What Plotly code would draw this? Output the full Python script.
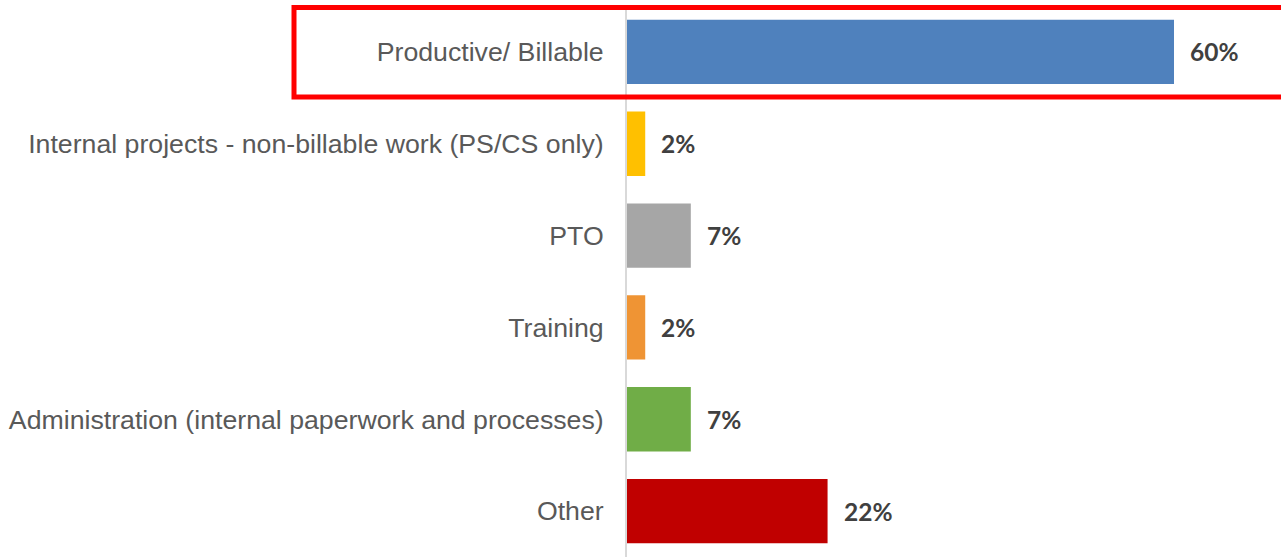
import plotly.graph_objects as go

# data
categories = [
    "Productive/ Billable",
    "Internal projects - non-billable work (PS/CS only)",
    "PTO",
    "Training",
    "Administration (internal paperwork and processes)",
    "Other",
]
values = [60, 2, 7, 2, 7, 22]
labels = ["60%", "2%", "7%", "2%", "7%", "22%"]
colors = ["#4f81bd", "#ffc000", "#a6a6a6", "#ef9434", "#70ad47", "#c00000"]

W, H = 1281, 557
LEFT = 627
TOP = 6
PX_PER_PCT = 547 / 60
x_max = (W - LEFT) / PX_PER_PCT

fig = go.Figure(go.Bar(
    x=values,
    y=categories,
    orientation="h",
    marker=dict(color=colors, line=dict(width=0)),
    hoverinfo="x+y",
))

# value labels to the right of each bar
for cat, v, lab in zip(categories, values, labels):
    fig.add_annotation(
        x=v, y=cat, text=f"<b>{lab}</b>", showarrow=False,
        xanchor="left", xshift=14,
        font=dict(family="Lato, Open Sans, sans-serif", size=24.5, color="#404040"),
    )

# red highlight box around the first row
fig.add_shape(
    type="rect", xref="paper", yref="paper",
    x0=(294 - LEFT) / (W - LEFT), x1=1.05,
    y0=1 - (97 - TOP) / (H - TOP), y1=1 - (7.5 - TOP) / (H - TOP),
    line=dict(color="#ff0000", width=5),
)

fig.update_layout(
    width=W, height=H,
    margin=dict(l=LEFT, r=0, t=TOP, b=0),
    paper_bgcolor="white", plot_bgcolor="white",
    showlegend=False,
    bargap=0.3,
    xaxis=dict(range=[0, x_max], visible=False, fixedrange=True),
    yaxis=dict(
        autorange="reversed",
        showgrid=False, zeroline=False,
        showline=True, linecolor="#d9d9d9", linewidth=2,
        ticks="", ticklabelstandoff=16,
        tickfont=dict(family="Liberation Sans, Arial, sans-serif", size=26.7, color="#595959"),
    ),
)

# drop the default page margin so the chart sits at the window origin
fig.write_html(
    "out.html",
    config={"displayModeBar": False},
    post_script="document.body.style.margin='0';",
)
